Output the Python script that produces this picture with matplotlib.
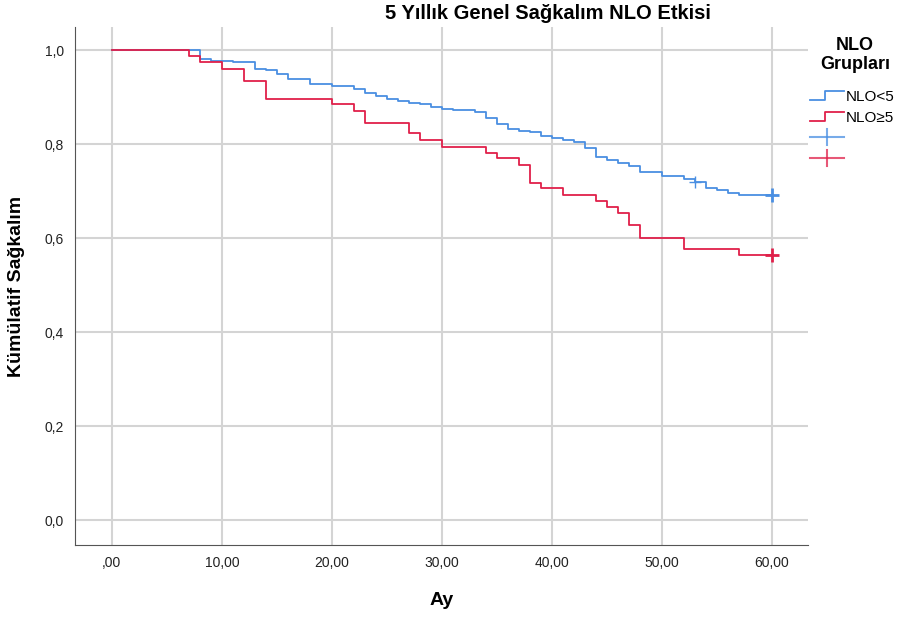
import matplotlib.pyplot as plt
from matplotlib.lines import Line2D
from matplotlib.legend_handler import HandlerBase

plt.rcParams['font.family'] = ['Liberation Sans', 'DejaVu Sans']

# Kaplan-Meier steps (months, survival)
t_low = [0, 8, 9, 11, 13, 14, 15, 16, 18, 20, 22, 23, 24, 25, 26, 27, 28, 29, 30, 31,
         33, 34, 35, 36, 37, 38, 39, 40, 41, 42, 43, 44, 45, 46, 47, 48, 50, 52, 53,
         54, 55, 56, 57, 60]
s_low = [1.0, 0.981, 0.977, 0.974, 0.961, 0.957, 0.950, 0.938, 0.928, 0.924, 0.918,
         0.910, 0.902, 0.897, 0.892, 0.888, 0.885, 0.879, 0.875, 0.872, 0.868, 0.855,
         0.842, 0.833, 0.829, 0.825, 0.817, 0.813, 0.809, 0.804, 0.791, 0.773, 0.767,
         0.761, 0.753, 0.740, 0.732, 0.726, 0.719, 0.706, 0.702, 0.697, 0.693, 0.693]
t_high = [0, 7, 8, 10, 12, 14, 20, 22, 23, 27, 28, 30, 34, 35, 37, 38, 39, 41, 44,
          45, 46, 47, 48, 52, 57, 60]
s_high = [1.0, 0.988, 0.974, 0.961, 0.935, 0.896, 0.885, 0.871, 0.846, 0.823, 0.809,
          0.794, 0.782, 0.770, 0.755, 0.718, 0.706, 0.691, 0.680, 0.667, 0.654, 0.628,
          0.601, 0.578, 0.564, 0.564]

# censored observations
cens_low_t = [53, 60]
cens_low_s = [0.720, 0.692]
cens_high_t = [60]
cens_high_s = [0.564]

labels = ['NLO<5', 'NLO≥5']
blue = '#4a8fe2'
red = '#e0204a'


class StepHandler(HandlerBase):
    def create_artists(self, legend, orig, xd, yd, w, h, fontsize, trans):
        x = [xd, xd + w * 0.45, xd + w * 0.45, xd + w]
        y = [yd + h * 0.1, yd + h * 0.1, yd + h * 0.9, yd + h * 0.9]
        return [Line2D(x, y, color=orig.get_color(), lw=1.3, transform=trans)]


class CrossHandler(HandlerBase):
    def create_artists(self, legend, orig, xd, yd, w, h, fontsize, trans):
        c = orig.get_color()
        hz = Line2D([xd, xd + w], [yd + h / 2] * 2, color=c, lw=1.5, alpha=0.75,
                    transform=trans)
        vt = Line2D([xd + w / 2] * 2, [yd - h * 0.25, yd + h * 1.25], color=c, lw=1.5,
                    alpha=0.75, transform=trans)
        return [hz, vt]


fig = plt.figure(figsize=(9.03, 6.19), dpi=100)
ax = fig.add_axes([0.083, 0.1195, 0.812, 0.8365])

ax.plot(t_low, s_low, drawstyle='steps-post', color=blue, lw=1.3)
ax.plot(t_high, s_high, drawstyle='steps-post', color=red, lw=1.3)
ax.plot(cens_low_t[:1], cens_low_s[:1], '+', color=blue, ms=8, mew=1.0)
ax.plot(cens_low_t[1:], cens_low_s[1:], '+', color=blue, ms=10, mew=2)
ax.plot(cens_high_t, cens_high_s, '+', color=red, ms=10, mew=2)

ax.set_xlim(-3.36, 63.3)
ax.set_ylim(-0.053, 1.049)
ax.set_xticks(range(0, 61, 10))
ax.set_xticklabels([',00', '10,00', '20,00', '30,00', '40,00', '50,00', '60,00'])
ax.set_yticks([0, 0.2, 0.4, 0.6, 0.8, 1.0])
ax.set_yticklabels(['0,0', '0,2', '0,4', '0,6', '0,8', '1,0'])
ax.grid(True, color='#d4d4d4', lw=1.5)
ax.set_axisbelow(True)
for s in ['top', 'right']:
    ax.spines[s].set_visible(False)
for s in ['left', 'bottom']:
    ax.spines[s].set_color('#555555')
ax.tick_params(length=0, labelsize=10, colors='#222222', pad=8)

ax.set_xlabel('Ay', fontsize=14, fontweight='bold', labelpad=16)
ax.set_ylabel('Kümülatif Sağkalım', fontsize=14, fontweight='bold', labelpad=14)
fig.text(0.607, 0.978, '5 Yıllık Genel Sağkalım NLO Etkisi', ha='center', va='center',
         fontsize=14.5, fontweight='bold')

fig.text(855 / 903, 1 - 55 / 619, 'NLO\nGrupları', ha='center', va='center',
         multialignment='center', fontsize=13, fontweight='bold', linespacing=1.15)

h1 = Line2D([], [], color=blue)
h2 = Line2D([], [], color=red)
h3 = Line2D([], [], color=blue)
h4 = Line2D([], [], color=red)
fig.legend([h1, h2, h3, h4], labels + ['', ''], loc='upper left',
           bbox_to_anchor=(810 / 903, 1 - 90 / 619), frameon=False, fontsize=11,
           handlelength=2.2, handletextpad=0.15, labelspacing=0.45,
           borderaxespad=0, borderpad=0,
           handler_map={h1: StepHandler(), h2: StepHandler(),
                        h3: CrossHandler(), h4: CrossHandler()})

fig.savefig('out.png', dpi=100)
